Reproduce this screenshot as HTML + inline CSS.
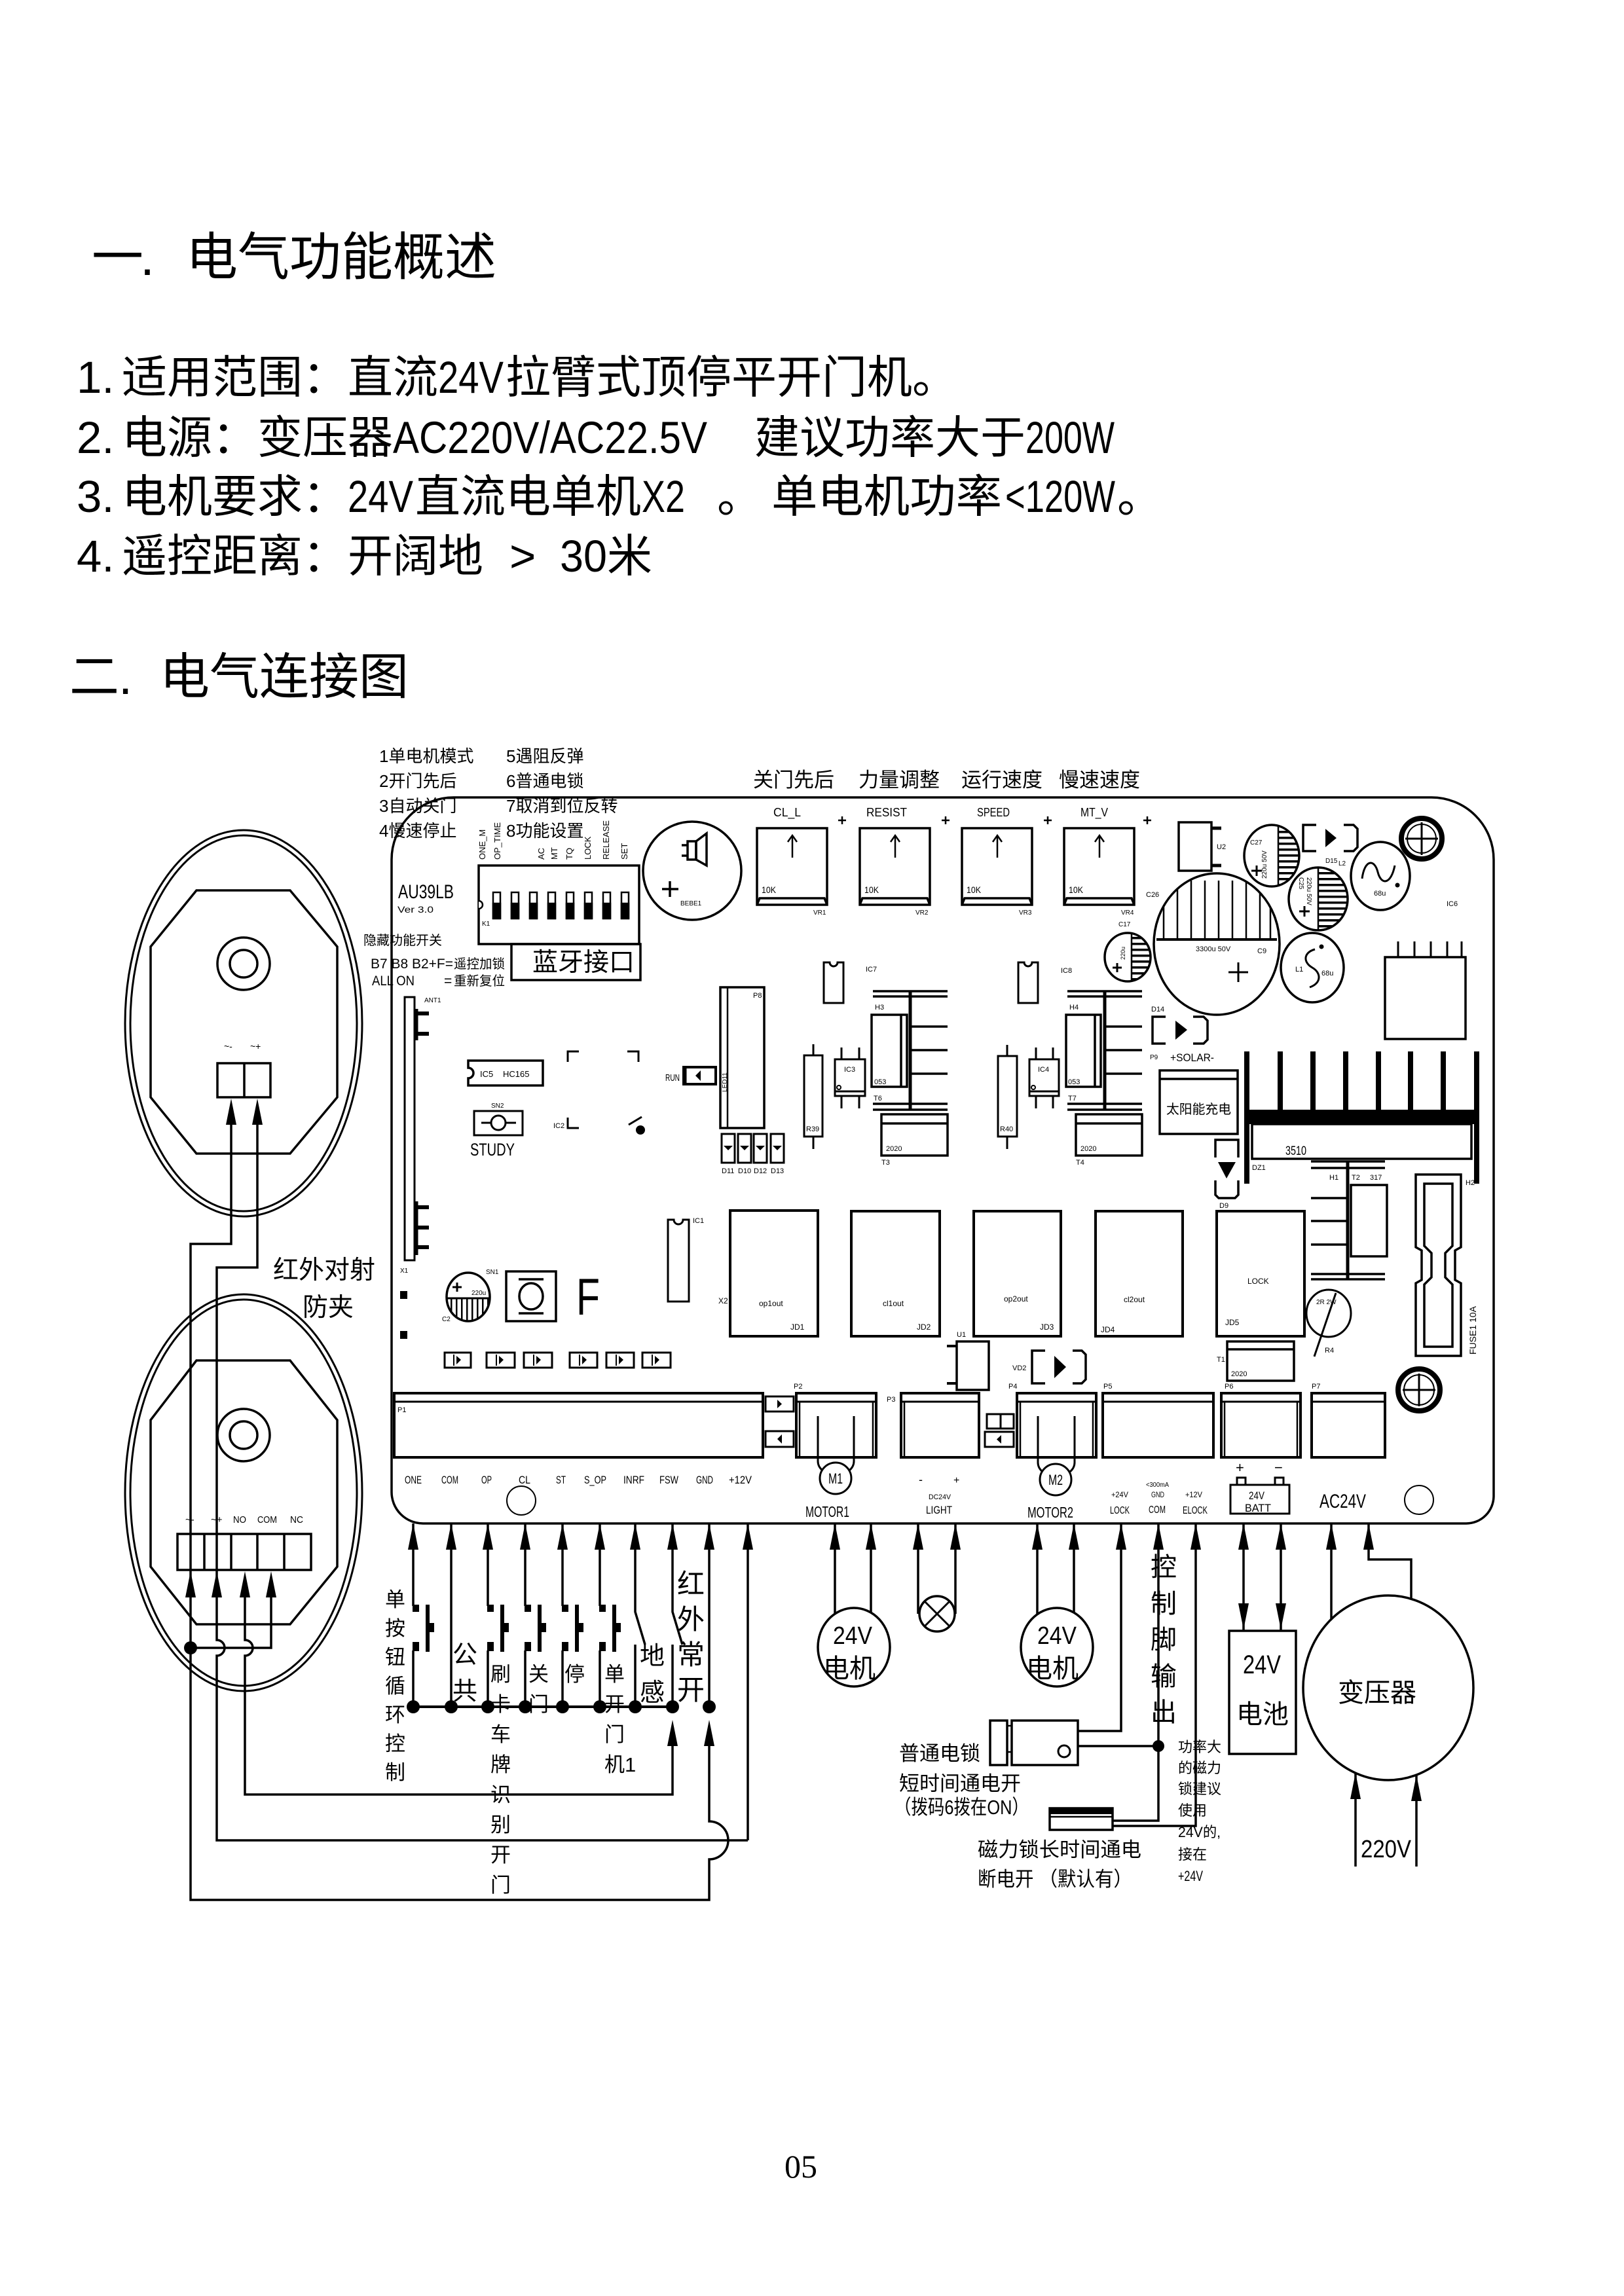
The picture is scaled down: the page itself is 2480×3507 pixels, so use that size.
<!DOCTYPE html>
<html><head><meta charset="utf-8">
<style>
html,body{margin:0;padding:0;background:#fff;}
svg{display:block;}
text{font-family:"Liberation Sans","Noto Sans CJK SC",sans-serif;fill:#000;stroke:none;}
.sf{font-family:"Liberation Serif","Noto Serif CJK SC",serif;}
</style></head><body>
<svg xmlns="http://www.w3.org/2000/svg" width="2480" height="3507" viewBox="0 0 2480 3507">
<defs>
<path id="ah" d="M0,0 L-8,40 L8,40 Z" fill="#000" stroke="none"/>
<pattern id="hh" width="10" height="9" patternUnits="userSpaceOnUse"><rect width="10" height="3.5" fill="#000"/></pattern>
<pattern id="hv" width="21" height="10" patternUnits="userSpaceOnUse"><rect width="2.5" height="10" fill="#000"/></pattern>
<pattern id="hv2" width="8" height="10" patternUnits="userSpaceOnUse"><rect width="2.5" height="10" fill="#000"/></pattern>
<clipPath id="cC27"><ellipse cx="1942" cy="1307" rx="42" ry="47"/></clipPath>
<clipPath id="cC25"><ellipse cx="2013" cy="1373" rx="45" ry="48"/></clipPath>
<clipPath id="cC17"><ellipse cx="1722" cy="1462" rx="35" ry="37"/></clipPath>
<clipPath id="cC9"><ellipse cx="1858" cy="1442" rx="96" ry="108"/></clipPath>
<clipPath id="cC2"><ellipse cx="715" cy="1981" rx="33" ry="37"/></clipPath>
</defs>
<rect width="2480" height="3507" fill="#fff"/>

<!-- ===== HEADER ===== -->
<g font-size="79">
<text x="140" y="420">一</text><text x="214" y="420">.</text>
<text x="284" y="420">电气功能概述</text>
</g>
<g font-size="69">
<text x="117" y="600">1.</text>
<text x="186" y="600">适用范围：直流</text>
<text x="669" y="600" textLength="100" lengthAdjust="spacingAndGlyphs">24V</text>
<text x="772" y="600">拉臂式顶停平开门机。</text>

<text x="117" y="692">2.</text>
<text x="186" y="692">电源：变压器</text>
<text x="600" y="692" textLength="480" lengthAdjust="spacingAndGlyphs">AC220V/AC22.5V</text>
<text x="1152" y="692">建议功率大于</text>
<text x="1566" y="692" textLength="136" lengthAdjust="spacingAndGlyphs">200W</text>

<text x="117" y="782">3.</text>
<text x="186" y="782">电机要求：</text>
<text x="531" y="782" textLength="100" lengthAdjust="spacingAndGlyphs">24V</text>
<text x="634" y="782">直流电单机</text>
<text x="980" y="782" textLength="66" lengthAdjust="spacingAndGlyphs">X2</text>
<text x="1095" y="782">。</text>
<text x="1178" y="782" textLength="352" lengthAdjust="spacingAndGlyphs">单电机功率</text>
<text x="1535" y="782" textLength="168" lengthAdjust="spacingAndGlyphs">&lt;120W</text>
<text x="1706" y="782">。</text>

<text x="117" y="873">4.</text>
<text x="186" y="873">遥控距离：</text>
<text x="531" y="873">开阔地</text>
<text x="778" y="873">&gt;</text>
<text x="855" y="873" textLength="72" lengthAdjust="spacingAndGlyphs">30</text>
<text x="927" y="873">米</text>
</g>
<g font-size="76">
<text x="106" y="1060">二</text><text x="181" y="1060">.</text>
<text x="244" y="1060">电气连接图</text>
</g>

<!-- DIP description -->
<g font-size="26">
<text x="579" y="1164">1单电机模式</text>
<text x="579" y="1202">2开门先后</text>
<text x="579" y="1240">3自动关门</text>
<text x="579" y="1278">4慢速停止</text>
<text x="773" y="1164">5遇阻反弹</text>
<text x="773" y="1202">6普通电锁</text>
<text x="773" y="1240">7取消到位反转</text>
<text x="773" y="1278">8功能设置</text>
</g>
<g font-size="31">
<text x="1150" y="1202">关门先后</text>
<text x="1311" y="1202">力量调整</text>
<text x="1468" y="1202">运行速度</text>
<text x="1617" y="1202">慢速速度</text>
</g>

<!-- ===== BOARD OUTLINE ===== -->
<g fill="none" stroke="#000" stroke-width="3.5">
<path d="M693,1218 H2186 A95,95 0 0 1 2281,1313 V2285 A42,42 0 0 1 2239,2327 H646 A48,48 0 0 1 598,2279 V1313 A95,95 0 0 1 693,1218 Z"/>
</g>

<!-- DIP switch -->
<g font-size="13">
<text transform="translate(741,1313) rotate(-90)">ONE_M</text>
<text transform="translate(764,1313) rotate(-90)">OP_TIME</text>
<text transform="translate(831,1313) rotate(-90)">AC</text>
<text transform="translate(851,1313) rotate(-90)">MT</text>
<text transform="translate(874,1313) rotate(-90)">TQ</text>
<text transform="translate(902,1313) rotate(-90)">LOCK</text>
<text transform="translate(930,1313) rotate(-90)">RELEASE</text>
<text transform="translate(958,1313) rotate(-90)">SET</text>
</g>
<g fill="none" stroke="#000" stroke-width="3.5">
<rect x="731" y="1322" width="245" height="120"/>
<rect x="781" y="1442" width="197" height="55"/>
</g>
<path d="M731,1376 A6,6 0 0 1 731,1388" fill="#fff" stroke="#000" stroke-width="2.5"/>
<g stroke="#000" stroke-width="2.5">
<rect x="753" y="1363" width="11" height="40" fill="#fff"/><rect x="753" y="1380" width="11" height="23" fill="#000"/>
<rect x="781" y="1363" width="11" height="40" fill="#fff"/><rect x="781" y="1380" width="11" height="23" fill="#000"/>
<rect x="809" y="1363" width="11" height="40" fill="#fff"/><rect x="809" y="1380" width="11" height="23" fill="#000"/>
<rect x="837" y="1363" width="11" height="40" fill="#fff"/><rect x="837" y="1380" width="11" height="23" fill="#000"/>
<rect x="865" y="1363" width="11" height="40" fill="#fff"/><rect x="865" y="1380" width="11" height="23" fill="#000"/>
<rect x="893" y="1363" width="11" height="40" fill="#fff"/><rect x="893" y="1380" width="11" height="23" fill="#000"/>
<rect x="921" y="1363" width="11" height="40" fill="#fff"/><rect x="921" y="1380" width="11" height="23" fill="#000"/>
<rect x="949" y="1363" width="11" height="40" fill="#fff"/><rect x="949" y="1380" width="11" height="23" fill="#000"/>
</g>
<text x="736" y="1414" font-size="10">K1</text>
<text x="813" y="1483" font-size="39">蓝牙接口</text>
<text x="608" y="1372" font-size="30" textLength="85" lengthAdjust="spacingAndGlyphs">AU39LB</text>
<text x="607" y="1394" font-size="14" textLength="55" lengthAdjust="spacingAndGlyphs">Ver 3.0</text>
<text x="555" y="1443" font-size="20" textLength="120" lengthAdjust="spacingAndGlyphs">隐藏功能开关</text>
<text x="566" y="1479" font-size="21" textLength="126" lengthAdjust="spacingAndGlyphs">B7 B8 B2+F=</text>
<text x="693" y="1479" font-size="20" textLength="78" lengthAdjust="spacingAndGlyphs">遥控加锁</text>
<text x="568" y="1505" font-size="21" textLength="65" lengthAdjust="spacingAndGlyphs">ALL ON</text>
<text x="678" y="1505" font-size="21">=</text>
<text x="693" y="1505" font-size="20" textLength="78" lengthAdjust="spacingAndGlyphs">重新复位</text>

<!-- Buzzer -->
<g fill="none" stroke="#000" stroke-width="3.5">
<circle cx="1057" cy="1330" r="75"/>
<rect x="1050" y="1285" width="13" height="28"/>
<polygon points="1063,1285 1079,1273 1079,1322 1063,1313"/>
<line x1="1041" y1="1291" x2="1050" y2="1291"/><line x1="1041" y1="1307" x2="1050" y2="1307"/>
<line x1="1011" y1="1358" x2="1036" y2="1358"/><line x1="1023" y1="1346" x2="1023" y2="1370"/>
</g>
<text x="1039" y="1383" font-size="10">BEBE1</text>

<!-- VR potentiometers -->
<g fill="none" stroke="#000" stroke-width="3.5">
<rect x="1156" y="1265" width="107" height="117"/>
<rect x="1313" y="1265" width="107" height="117"/>
<rect x="1469" y="1265" width="107" height="117"/>
<rect x="1625" y="1265" width="107" height="117"/>
<polyline points="1156,1382 1160,1372 1259,1372 1263,1382"/>
<polyline points="1313,1382 1317,1372 1416,1372 1420,1382"/>
<polyline points="1469,1382 1473,1372 1572,1372 1576,1382"/>
<polyline points="1625,1382 1629,1372 1728,1372 1732,1382"/>
<g stroke-width="2.5">
<path d="M1210,1310 V1276 M1203,1286 L1210,1276 L1217,1286"/>
<path d="M1367,1310 V1276 M1360,1286 L1367,1276 L1374,1286"/>
<path d="M1523,1310 V1276 M1516,1286 L1523,1276 L1530,1286"/>
<path d="M1679,1310 V1276 M1672,1286 L1679,1276 L1686,1286"/>
<path d="M1280,1253 H1292 M1286,1247 V1259 M1438,1253 H1450 M1444,1247 V1259 M1594,1253 H1606 M1600,1247 V1259 M1746,1253 H1758 M1752,1247 V1259"/>
</g>
</g>
<g font-size="14">
<text x="1163" y="1364" textLength="22" lengthAdjust="spacingAndGlyphs">10K</text>
<text x="1320" y="1364" textLength="22" lengthAdjust="spacingAndGlyphs">10K</text>
<text x="1476" y="1364" textLength="22" lengthAdjust="spacingAndGlyphs">10K</text>
<text x="1632" y="1364" textLength="22" lengthAdjust="spacingAndGlyphs">10K</text>
</g>
<g font-size="10">
<text x="1242" y="1397">VR1</text><text x="1398" y="1397">VR2</text><text x="1556" y="1397">VR3</text><text x="1712" y="1397">VR4</text>
</g>
<g font-size="18">
<text x="1181" y="1247" textLength="42" lengthAdjust="spacingAndGlyphs">CL_L</text>
<text x="1323" y="1247" textLength="62" lengthAdjust="spacingAndGlyphs">RESIST</text>
<text x="1492" y="1247" textLength="50" lengthAdjust="spacingAndGlyphs">SPEED</text>
<text x="1650" y="1247" textLength="42" lengthAdjust="spacingAndGlyphs">MT_V</text>
</g>

<!-- U2, capacitors, inductors (top right) -->
<g fill="none" stroke="#000" stroke-width="3.5">
<rect x="1800" y="1256" width="50" height="74"/>
<line x1="1850" y1="1265" x2="1865" y2="1265" stroke-width="5"/>
<line x1="1850" y1="1322" x2="1865" y2="1322" stroke-width="5"/>
</g>
<text x="1858" y="1297" font-size="11">U2</text>

<rect x="1952" y="1255" width="40" height="105" fill="url(#hh)" clip-path="url(#cC27)"/>
<g fill="none" stroke="#000" stroke-width="3.5">
<ellipse cx="1942" cy="1307" rx="42" ry="47"/>
<line x1="1952" y1="1261" x2="1952" y2="1353" stroke-width="2.5"/>
<path d="M1911,1330 H1927 M1919,1322 V1338" stroke-width="3"/>
</g>
<text x="1909" y="1290" font-size="10">C27</text>
<text transform="translate(1934,1342) rotate(-90)" font-size="10">220u 50V</text>

<g fill="none" stroke="#000" stroke-width="3.5">
<path d="M2010,1260 H1990 V1300 H2010"/>
<path d="M2052,1260 H2067 L2073,1266 V1294 L2067,1300 H2052"/>
</g>
<polygon points="2024,1266 2041,1280 2024,1294" fill="#000"/>
<text x="2024" y="1318" font-size="10">D15</text>
<text x="2044" y="1322" font-size="10">L2</text>

<g fill="none" stroke="#000" stroke-width="3.5">
<ellipse cx="2108" cy="1338" rx="45" ry="52"/>
<path d="M2080,1342 C2084,1312 2099,1312 2104,1332 C2109,1352 2124,1352 2130,1322" stroke-width="3"/>
</g>
<circle cx="2134" cy="1352" r="3.5" fill="#000"/>
<text x="2098" y="1368" font-size="11">68u</text>

<!-- mounting hole top right -->
<g fill="none" stroke="#000">
<circle cx="2171" cy="1281" r="31" stroke-width="8"/>
<circle cx="2171" cy="1281" r="22" stroke-width="2"/>
<path d="M2146,1281 H2196 M2171,1256 V1306" stroke-width="3"/>
</g>

<rect x="2013" y="1322" width="50" height="105" fill="url(#hh)" clip-path="url(#cC25)"/>
<g fill="none" stroke="#000" stroke-width="3.5">
<ellipse cx="2013" cy="1373" rx="45" ry="48"/>
<line x1="2013" y1="1326" x2="2013" y2="1420" stroke-width="2.5"/>
<path d="M1984,1392 H2000 M1992,1384 V1400" stroke-width="3"/>
</g>
<text transform="translate(1996,1340) rotate(90)" font-size="10">220u 50V</text>
<text transform="translate(1984,1340) rotate(90)" font-size="10">C25</text>

<!-- C9 big cap -->
<g fill="none" stroke="#000" stroke-width="3.5">
<ellipse cx="1858" cy="1442" rx="96" ry="108"/>
<line x1="1766" y1="1435" x2="1950" y2="1435" stroke-width="4"/>
<path d="M1876,1485 H1906 M1891,1470 V1500" stroke-width="3"/>
</g>
<g clip-path="url(#cC9)" stroke="#000" stroke-width="2.5">
<line x1="1777" y1="1345" x2="1777" y2="1435"/><line x1="1798" y1="1345" x2="1798" y2="1435"/>
<line x1="1819" y1="1345" x2="1819" y2="1435"/><line x1="1840" y1="1345" x2="1840" y2="1435"/>
<line x1="1861" y1="1345" x2="1861" y2="1435"/><line x1="1882" y1="1345" x2="1882" y2="1435"/>
<line x1="1903" y1="1345" x2="1903" y2="1435"/><line x1="1924" y1="1345" x2="1924" y2="1435"/>
<line x1="1940" y1="1360" x2="1940" y2="1435"/>
</g>
<text x="1826" y="1453" font-size="11">3300u 50V</text>
<text x="1920" y="1456" font-size="11">C9</text>
<text x="1750" y="1370" font-size="11">C26</text>

<!-- C17 -->
<rect x="1728" y="1420" width="35" height="85" fill="url(#hh)" clip-path="url(#cC17)"/>
<g fill="none" stroke="#000" stroke-width="3.5">
<ellipse cx="1722" cy="1462" rx="35" ry="37"/>
<line x1="1728" y1="1427" x2="1728" y2="1498" stroke-width="2.5"/>
<path d="M1699,1478 H1713 M1706,1471 V1485" stroke-width="3"/>
</g>
<text x="1708" y="1415" font-size="10">C17</text>
<text transform="translate(1718,1466) rotate(-90)" font-size="9">220u</text>

<!-- L1 -->
<g fill="none" stroke="#000" stroke-width="3.5">
<ellipse cx="2004" cy="1478" rx="48" ry="53"/>
<path d="M2008,1450 C1990,1455 1990,1470 2004,1478 C2018,1486 2018,1502 2000,1508" stroke-width="3"/>
</g>
<circle cx="2018" cy="1446" r="3.5" fill="#000"/>
<text x="1978" y="1484" font-size="11">L1</text>
<text x="2018" y="1490" font-size="11">68u</text>

<!-- IC6 -->
<g fill="none" stroke="#000" stroke-width="3.5">
<rect x="2115" y="1462" width="123" height="125"/>
<path d="M2135,1438 V1462 M2160,1438 V1462 M2185,1438 V1462 M2210,1438 V1462 M2232,1438 V1462" stroke-width="3"/>
</g>
<text x="2209" y="1384" font-size="11">IC6</text>

<!-- IC7, IC8 -->
<g fill="none" stroke="#000" stroke-width="3">
<path d="M1258,1470 H1267 A6,6 0 0 0 1279,1470 H1288 V1532 H1258 Z"/>
<path d="M1555,1470 H1564 A6,6 0 0 0 1576,1470 H1585 V1532 H1555 Z"/>
</g>
<text x="1322" y="1484" font-size="11">IC7</text>
<text x="1620" y="1486" font-size="11">IC8</text>

<!-- H3 / T6 / T3 -->
<g fill="none" stroke="#000" stroke-width="3.5">
<path d="M1333,1514 H1447 M1333,1522 H1447 M1333,1686 H1447 M1333,1695 H1447"/>
<line x1="1390" y1="1514" x2="1390" y2="1695" stroke-width="5"/>
<path d="M1390,1568 H1447 M1390,1604 H1447 M1390,1640 H1447"/>
<rect x="1331" y="1550" width="54" height="110"/><line x1="1376" y1="1550" x2="1376" y2="1660"/>
<rect x="1346" y="1702" width="101" height="63"/><line x1="1346" y1="1716" x2="1447" y2="1716"/>
<!-- H4 / T7 / T4 -->
<path d="M1630,1514 H1744 M1630,1522 H1744 M1630,1686 H1744 M1630,1695 H1744"/>
<line x1="1687" y1="1514" x2="1687" y2="1695" stroke-width="5"/>
<path d="M1687,1568 H1744 M1687,1604 H1744 M1687,1640 H1744"/>
<rect x="1628" y="1550" width="53" height="110"/><line x1="1672" y1="1550" x2="1672" y2="1660"/>
<rect x="1643" y="1702" width="101" height="63"/><line x1="1643" y1="1716" x2="1744" y2="1716"/>
</g>
<g font-size="11">
<text x="1336" y="1542">H3</text><text x="1335" y="1656">053</text><text x="1334" y="1681">T6</text>
<text x="1353" y="1758">2020</text><text x="1346" y="1779">T3</text>
<text x="1633" y="1542">H4</text><text x="1631" y="1656">053</text><text x="1631" y="1681">T7</text>
<text x="1650" y="1758">2020</text><text x="1643" y="1779">T4</text>
</g>

<!-- IC3, IC4, R39, R40 -->
<g fill="none" stroke="#000" stroke-width="3">
<rect x="1275" y="1618" width="46" height="56"/><line x1="1275" y1="1667" x2="1321" y2="1667"/>
<path d="M1285,1600 V1618 M1312,1600 V1618 M1285,1674 V1693 M1312,1674 V1693"/>
<rect x="1572" y="1618" width="45" height="56"/><line x1="1572" y1="1667" x2="1617" y2="1667"/>
<path d="M1582,1600 V1618 M1608,1600 V1618 M1582,1674 V1693 M1608,1674 V1693"/>
<rect x="1228" y="1612" width="28" height="124"/><path d="M1242,1595 V1612 M1242,1736 V1755"/>
<rect x="1524" y="1613" width="29" height="123"/><path d="M1538,1596 V1613 M1538,1736 V1755"/>
</g>
<circle cx="1281" cy="1661" r="3" fill="none" stroke="#000" stroke-width="2"/>
<circle cx="1578" cy="1661" r="3" fill="none" stroke="#000" stroke-width="2"/>
<g font-size="11">
<text x="1289" y="1637">IC3</text><text x="1585" y="1637">IC4</text>
<text x="1231" y="1728">R39</text><text x="1527" y="1728">R40</text>
</g>

<!-- P8 / LED11 / D10-13 -->
<g fill="none" stroke="#000" stroke-width="3.5">
<rect x="1100" y="1508" width="67" height="215"/><line x1="1111" y1="1508" x2="1111" y2="1723" stroke-width="2.5"/>
<g stroke-width="3">
<rect x="1102" y="1732" width="20" height="44"/><rect x="1127" y="1732" width="20" height="44"/>
<rect x="1151" y="1732" width="20" height="44"/><rect x="1177" y="1732" width="20" height="44"/>
</g>
</g>
<g fill="#000">
<polygon points="1105,1750 1119,1750 1112,1757"/><polygon points="1130,1750 1144,1750 1137,1757"/>
<polygon points="1154,1750 1168,1750 1161,1757"/><polygon points="1180,1750 1194,1750 1187,1757"/>
</g>
<g font-size="11">
<text x="1150" y="1524">P8</text>
<text transform="translate(1110,1668) rotate(-90)" font-size="10">LED11</text>
<text x="1102" y="1792">D11</text><text x="1127" y="1792">D10</text><text x="1151" y="1792">D12</text><text x="1177" y="1792">D13</text>
</g>

<!-- RUN -->
<text x="1016" y="1651" font-size="15" textLength="22" lengthAdjust="spacingAndGlyphs">RUN</text>
<rect x="1044" y="1630" width="49" height="26" fill="none" stroke="#000" stroke-width="4"/>
<line x1="1046" y1="1630" x2="1046" y2="1656" stroke="#000" stroke-width="5"/>
<polygon points="1062,1643 1070,1635 1070,1651" fill="#000"/>

<!-- IC2 corners -->
<g fill="none" stroke="#000" stroke-width="3">
<path d="M867,1622 V1606 H884 M958,1606 H975 V1622 M867,1707 V1723 H884"/>
<path d="M960,1718 L980,1706"/>
</g>
<circle cx="978" cy="1726" r="7" fill="#000"/>
<text x="845" y="1723" font-size="11">IC2</text>

<!-- IC5 -->
<path d="M715,1620 H829 V1658 H715 V1647 A8,8 0 0 0 715,1631 Z" fill="none" stroke="#000" stroke-width="3.5"/>
<text x="733" y="1645" font-size="13">IC5</text><text x="768" y="1645" font-size="13">HC165</text>

<!-- SN2 / STUDY -->
<g fill="none" stroke="#000" stroke-width="3">
<rect x="724" y="1697" width="74" height="37"/>
<circle cx="761" cy="1715" r="11"/>
<path d="M735,1715 H750 M772,1715 H788"/>
</g>
<text x="750" y="1692" font-size="10">SN2</text>
<text x="718" y="1765" font-size="27" textLength="68" lengthAdjust="spacingAndGlyphs">STUDY</text>

<!-- ANT1 / X1 -->
<g fill="none" stroke="#000">
<rect x="618" y="1523" width="15" height="402" stroke-width="3"/>
<path d="M636,1541 V1589 M636,1835 V1917" stroke-width="5"/>
<path d="M636,1548 H655 M636,1579 H655 M636,1844 H655 M636,1875 H655 M636,1905 H655" stroke-width="6"/>
</g>
<text x="648" y="1531" font-size="10">ANT1</text>
<text x="611" y="1944" font-size="10">X1</text>

<!-- C2, SN1, F -->
<rect x="680" y="1983" width="70" height="40" fill="url(#hv2)" clip-path="url(#cC2)"/>
<g fill="none" stroke="#000" stroke-width="3.5">
<ellipse cx="715" cy="1981" rx="33" ry="37"/>
<line x1="682" y1="1983" x2="748" y2="1983" stroke-width="3"/>
<path d="M691,1966 H705 M698,1959 V1973" stroke-width="3"/>
<rect x="773" y="1942" width="76" height="76"/>
<ellipse cx="811" cy="1980" rx="18" ry="20"/>
<path d="M792,1954 H830 M792,2006 H830"/>
</g>
<text x="720" y="1978" font-size="10">220u</text>
<text x="742" y="1946" font-size="10">SN1</text>
<text x="675" y="2018" font-size="10">C2</text>
<text x="880" y="2008" font-size="79" textLength="36" lengthAdjust="spacingAndGlyphs">F</text>
<rect x="611" y="1972" width="11" height="12" fill="#000"/>
<rect x="611" y="2033" width="11" height="12" fill="#000"/>

<!-- LED row -->
<g fill="none" stroke="#000" stroke-width="3">
<rect x="679" y="2066" width="40" height="23"/><rect x="743" y="2066" width="43" height="23"/>
<rect x="800" y="2066" width="43" height="23"/><rect x="870" y="2066" width="42" height="23"/>
<rect x="926" y="2066" width="42" height="23"/><rect x="981" y="2066" width="43" height="23"/>
<path d="M693,2069 V2086 M758,2069 V2086 M815,2069 V2086 M885,2069 V2086 M941,2069 V2086 M996,2069 V2086" stroke-width="2"/>
</g>
<g fill="#000">
<polygon points="697,2071 704,2077 697,2084"/><polygon points="762,2071 769,2077 762,2084"/>
<polygon points="819,2071 826,2077 819,2084"/><polygon points="889,2071 896,2077 889,2084"/>
<polygon points="945,2071 952,2077 945,2084"/><polygon points="1000,2071 1007,2077 1000,2084"/>
</g>

<!-- IC1 -->
<path d="M1020,1863 H1029 A7,7 0 0 0 1043,1863 H1052 V1988 H1020 Z" fill="none" stroke="#000" stroke-width="3"/>
<text x="1058" y="1868" font-size="11">IC1</text>

<!-- Relays -->
<g fill="none" stroke="#000" stroke-width="4">
<rect x="1115" y="1849" width="134" height="192"/>
<rect x="1300" y="1850" width="135" height="191"/>
<rect x="1487" y="1850" width="133" height="191"/>
<rect x="1673" y="1850" width="133" height="191"/>
<rect x="1858" y="1850" width="134" height="191"/>
</g>
<g font-size="12">
<text x="1159" y="1995">op1out</text><text x="1207" y="2031">JD1</text><text x="1097" y="1991">X2</text>
<text x="1348" y="1995">cl1out</text><text x="1400" y="2031">JD2</text>
<text x="1533" y="1988">op2out</text><text x="1588" y="2031">JD3</text>
<text x="1716" y="1989">cl2out</text><text x="1681" y="2035">JD4</text>
<text x="1905" y="1961">LOCK</text><text x="1871" y="2024">JD5</text>
</g>

<!-- U1, VD2, T1 -->
<g fill="none" stroke="#000" stroke-width="3.5">
<rect x="1461" y="2049" width="49" height="74"/>
<path d="M1446,2056 H1461 M1446,2113 H1461" stroke-width="4"/>
<path d="M1596,2063 H1576 V2113 H1596"/>
<path d="M1638,2063 H1652 L1658,2069 V2107 L1652,2113 H1638"/>
<rect x="1874" y="2049" width="102" height="60"/><line x1="1874" y1="2061" x2="1976" y2="2061"/>
</g>
<polygon points="1610,2071 1628,2088 1610,2105" fill="#000"/>
<g font-size="11">
<text x="1461" y="2042">U1</text><text x="1546" y="2093">VD2</text>
<text x="1880" y="2102">2020</text><text x="1858" y="2080">T1</text>
</g>

<!-- D14, solar -->
<g fill="none" stroke="#000" stroke-width="3.5">
<path d="M1780,1553 H1760 V1594 H1780"/>
<path d="M1822,1553 H1838 L1844,1559 V1588 L1838,1594 H1822"/>
<rect x="1771" y="1635" width="119" height="97"/><line x1="1771" y1="1648" x2="1890" y2="1648"/>
</g>
<polygon points="1795,1559 1813,1573 1795,1588" fill="#000"/>
<text x="1758" y="1545" font-size="11">D14</text>
<text x="1756" y="1618" font-size="10">P9</text>
<text x="1787" y="1621" font-size="17" textLength="67" lengthAdjust="spacingAndGlyphs">+SOLAR-</text>
<text x="1781" y="1701" font-size="20" textLength="99" lengthAdjust="spacingAndGlyphs">太阳能充电</text>

<!-- D9 -->
<g fill="none" stroke="#000" stroke-width="3.5">
<path d="M1856,1768 V1741 H1891 V1768"/>
<path d="M1856,1803 V1825 L1861,1830 H1886 L1891,1825 V1803"/>
</g>
<polygon points="1860,1775 1887,1775 1873,1800" fill="#000"/>
<text x="1862" y="1845" font-size="11">D9</text>

<!-- DZ1 heatsink -->
<g fill="#000">
<rect x="1900" y="1606" width="8" height="202"/>
<rect x="1951" y="1606" width="8" height="100"/>
<rect x="2001" y="1606" width="8" height="100"/>
<rect x="2051" y="1606" width="8" height="100"/>
<rect x="2101" y="1606" width="8" height="100"/>
<rect x="2150" y="1606" width="8" height="100"/>
<rect x="2200" y="1606" width="8" height="100"/>
<rect x="2251" y="1606" width="8" height="202"/>
<rect x="1900" y="1695" width="359" height="22"/>
</g>
<rect x="1912" y="1717" width="335" height="53" fill="none" stroke="#000" stroke-width="3.5"/>
<text x="1963" y="1764" font-size="19" textLength="32" lengthAdjust="spacingAndGlyphs">3510</text>
<text x="1912" y="1787" font-size="11">DZ1</text>

<!-- H1/T2 -->
<g fill="none" stroke="#000" stroke-width="3.5">
<path d="M2002,1774 H2115 M2002,1784 H2115 M2002,1946 H2115 M2002,1954 H2115"/>
<line x1="2058" y1="1774" x2="2058" y2="1954" stroke-width="5"/>
<path d="M2002,1830 H2058 M2002,1865 H2058 M2002,1901 H2058"/>
<rect x="2063" y="1810" width="55" height="109"/>
</g>
<g font-size="11"><text x="2030" y="1802">H1</text><text x="2064" y="1802">T2</text><text x="2092" y="1802">317</text></g>

<!-- Fuse H2 -->
<g fill="none" stroke="#000" stroke-width="3.5">
<path d="M2162,1794 H2231 V1905 L2222,1910 V1955 L2231,1960 V2071 H2162 V1960 L2171,1955 V1910 L2162,1905 Z"/>
<path d="M2175,1808 H2218 V1903 L2207,1914 V1951 L2218,1962 V2057 H2175 V1962 L2186,1951 V1914 L2175,1903 Z"/>
</g>
<text x="2238" y="1810" font-size="11">H2</text>
<text transform="translate(2254,2069) rotate(-90)" font-size="14">FUSE1   10A</text>

<!-- R4 -->
<g fill="none" stroke="#000" stroke-width="3">
<ellipse cx="2029" cy="2006" rx="34" ry="36"/>
<line x1="2007" y1="2072" x2="2040" y2="1975"/>
</g>
<text x="2010" y="1992" font-size="10">2R 2W</text>
<text x="2023" y="2066" font-size="11">R4</text>

<!-- mounting hole bottom right -->
<g fill="none" stroke="#000">
<circle cx="2167" cy="2123" r="32" stroke-width="8"/>
<circle cx="2167" cy="2123" r="23" stroke-width="2"/>
<path d="M2142,2123 H2192 M2167,2098 V2148" stroke-width="3"/>
<circle cx="2167" cy="2291" r="22" stroke-width="2"/>
<circle cx="796" cy="2292" r="22" stroke-width="2"/>
</g>

<!-- Bottom connectors -->
<g fill="none" stroke="#000" stroke-width="4">
<rect x="602" y="2128" width="563" height="98"/><line x1="602" y1="2141" x2="1165" y2="2141" stroke-width="3"/>
<rect x="1216" y="2128" width="122" height="98"/><line x1="1216" y1="2141" x2="1338" y2="2141" stroke-width="3"/>
<path d="M1221,2141 V2226 M1333,2141 V2226" stroke-width="2.5"/>
<rect x="1376" y="2128" width="119" height="98"/><line x1="1376" y1="2141" x2="1495" y2="2141" stroke-width="3"/>
<path d="M1381,2141 V2226" stroke-width="2.5"/>
<rect x="1553" y="2128" width="121" height="98"/><line x1="1553" y1="2141" x2="1674" y2="2141" stroke-width="3"/>
<path d="M1558,2141 V2226 M1669,2141 V2226" stroke-width="2.5"/>
<rect x="1684" y="2128" width="169" height="98"/><line x1="1684" y1="2141" x2="1853" y2="2141" stroke-width="3"/>
<rect x="1865" y="2128" width="121" height="98"/><line x1="1865" y1="2141" x2="1986" y2="2141" stroke-width="3"/>
<path d="M1870,2141 V2226 M1981,2141 V2226" stroke-width="2.5"/>
<rect x="2003" y="2128" width="112" height="98"/><line x1="2003" y1="2141" x2="2115" y2="2141" stroke-width="3"/>
<g stroke-width="3">
<rect x="1169" y="2133" width="43" height="23"/><rect x="1169" y="2186" width="43" height="24"/>
<rect x="1507" y="2160" width="41" height="22"/><line x1="1528" y1="2160" x2="1528" y2="2182"/>
<rect x="1504" y="2187" width="44" height="23"/>
</g>
<!-- motors on board -->
<circle cx="1276" cy="2258" r="24" stroke-width="3"/>
<path d="M1249,2163 V2232 Q1249,2240 1256,2246 M1304,2163 V2232 Q1304,2240 1297,2246" stroke-width="3"/>
<circle cx="1612" cy="2260" r="24" stroke-width="3"/>
<path d="M1585,2163 V2234 Q1585,2242 1592,2248 M1641,2163 V2234 Q1641,2242 1634,2248" stroke-width="3"/>
<!-- battery symbol -->
<rect x="1879" y="2268" width="90" height="44" stroke-width="3"/>
<rect x="1889" y="2257" width="13" height="11" stroke-width="3"/>
<rect x="1947" y="2257" width="13" height="11" stroke-width="3"/>
</g>
<g fill="#000">
<polygon points="1187,2138 1194,2144.5 1187,2151"/>
<polygon points="1194,2191 1187,2198 1194,2205"/>
<polygon points="1529,2192 1522,2198.5 1529,2205"/>
</g>
<g font-size="11">
<text x="607" y="2157">P1</text><text x="1212" y="2121">P2</text><text x="1354" y="2141">P3</text>
<text x="1540" y="2121">P4</text><text x="1685" y="2121">P5</text><text x="1870" y="2121">P6</text><text x="2003" y="2121">P7</text>
</g>
<text x="1265" y="2266" font-size="22" textLength="22" lengthAdjust="spacingAndGlyphs">M1</text>
<text x="1601" y="2268" font-size="22" textLength="22" lengthAdjust="spacingAndGlyphs">M2</text>
<text x="1230" y="2317" font-size="23" textLength="67" lengthAdjust="spacingAndGlyphs">MOTOR1</text>
<text x="1569" y="2318" font-size="23" textLength="70" lengthAdjust="spacingAndGlyphs">MOTOR2</text>
<g font-size="17">
<text x="618" y="2266" textLength="26" lengthAdjust="spacingAndGlyphs">ONE</text>
<text x="674" y="2266" textLength="26" lengthAdjust="spacingAndGlyphs">COM</text>
<text x="735" y="2266" textLength="16" lengthAdjust="spacingAndGlyphs">OP</text>
<text x="792" y="2266" textLength="18" lengthAdjust="spacingAndGlyphs">CL</text>
<text x="849" y="2266" textLength="15" lengthAdjust="spacingAndGlyphs">ST</text>
<text x="892" y="2266" textLength="34" lengthAdjust="spacingAndGlyphs">S_OP</text>
<text x="952" y="2266" textLength="32" lengthAdjust="spacingAndGlyphs">INRF</text>
<text x="1007" y="2266" textLength="29" lengthAdjust="spacingAndGlyphs">FSW</text>
<text x="1063" y="2266" textLength="26" lengthAdjust="spacingAndGlyphs">GND</text>
<text x="1113" y="2266" textLength="35" lengthAdjust="spacingAndGlyphs">+12V</text>
</g>
<text x="1403" y="2266" font-size="18">-</text>
<text x="1456" y="2266" font-size="16">+</text>
<text x="1418" y="2290" font-size="11" textLength="34" lengthAdjust="spacingAndGlyphs">DC24V</text>
<text x="1414" y="2312" font-size="17" textLength="40" lengthAdjust="spacingAndGlyphs">LIGHT</text>
<text x="1697" y="2287" font-size="12" textLength="26" lengthAdjust="spacingAndGlyphs">+24V</text>
<text x="1695" y="2312" font-size="16" textLength="30" lengthAdjust="spacingAndGlyphs">LOCK</text>
<text x="1750" y="2271" font-size="10" textLength="35" lengthAdjust="spacingAndGlyphs">&lt;300mA</text>
<text x="1758" y="2287" font-size="12" textLength="20" lengthAdjust="spacingAndGlyphs">GND</text>
<text x="1754" y="2311" font-size="16" textLength="26" lengthAdjust="spacingAndGlyphs">COM</text>
<text x="1810" y="2287" font-size="12" textLength="26" lengthAdjust="spacingAndGlyphs">+12V</text>
<text x="1806" y="2312" font-size="16" textLength="38" lengthAdjust="spacingAndGlyphs">ELOCK</text>
<text x="1887" y="2249" font-size="22">+</text>
<text x="1946" y="2249" font-size="22">−</text>
<text x="1907" y="2290" font-size="17" textLength="24" lengthAdjust="spacingAndGlyphs">24V</text>
<text x="1901" y="2309" font-size="17" textLength="40" lengthAdjust="spacingAndGlyphs">BATT</text>
<text x="2015" y="2303" font-size="30" textLength="71" lengthAdjust="spacingAndGlyphs">AC24V</text>

<!-- ===== IR SENSORS ===== -->
<g fill="none" stroke="#000" stroke-width="3">
<ellipse cx="372" cy="1563" rx="181" ry="295"/>
<ellipse cx="372" cy="1563" rx="173" ry="287"/>
<polygon points="300,1360 443,1360 515,1446 515,1676 443,1762 300,1762 230,1676 230,1446" stroke-width="3.5"/>
<circle cx="372" cy="1472" r="40" stroke-width="3.5"/>
<circle cx="372" cy="1472" r="21" stroke-width="3.5"/>
<rect x="332" y="1624" width="81" height="52" stroke-width="3.5"/>
<line x1="373" y1="1624" x2="373" y2="1676" stroke-width="3.5"/>

<ellipse cx="372" cy="2280" rx="181" ry="303"/>
<ellipse cx="372" cy="2280" rx="173" ry="295"/>
<polygon points="300,2078 443,2078 515,2169 515,2393 443,2481 300,2481 230,2393 230,2169" stroke-width="3.5"/>
<circle cx="372" cy="2192" r="40" stroke-width="3.5"/>
<circle cx="372" cy="2192" r="21" stroke-width="3.5"/>
<rect x="271" y="2343" width="204" height="55" stroke-width="3.5"/>
<path d="M312,2343 V2398 M353,2343 V2398 M393,2343 V2398 M434,2343 V2398" stroke-width="3.5"/>
</g>
<text x="342" y="1603" font-size="14">~-</text>
<text x="382" y="1603" font-size="14">~+</text>
<g font-size="15">
<text x="283" y="2326">~-</text><text x="322" y="2326">~+</text>
<text x="356" y="2326" textLength="20" lengthAdjust="spacingAndGlyphs">NO</text>
<text x="393" y="2326" textLength="30" lengthAdjust="spacingAndGlyphs">COM</text>
<text x="443" y="2326" textLength="20" lengthAdjust="spacingAndGlyphs">NC</text>
</g>
<text x="417" y="1953" font-size="39">红外对射</text>
<text x="462" y="2010" font-size="39">防夹</text>

<!-- ===== WIRING ===== -->
<g fill="none" stroke="#000" stroke-width="3.5">
<path d="M353,1716 V1900 H291 V2902 H1083 V2840 A29,29 0 0 0 1083,2782 V2665"/>
<path d="M393,1716 V1936 H331 V2505 A12,12 0 0 1 331,2529 V2811 H1142"/>
<path d="M374,2438 V2505 A12,12 0 0 1 374,2529 V2741 H1027 V2665"/>
<path d="M414,2438 V2517 H291"/>
<path d="M689,2327 V2607 M1083,2327 V2607 M1142,2327 V2811"/>
<path d="M631,2327 V2453 M631,2521 V2607 M745,2327 V2453 M745,2521 V2607 M802,2327 V2453 M802,2521 V2607 M859,2327 V2453 M859,2521 V2607 M916,2327 V2453 M916,2521 V2607"/>
<path d="M653,2451 V2523 M767,2451 V2523 M824,2451 V2523 M881,2451 V2523 M938,2451 V2523" stroke-width="6"/>
<path d="M970,2327 V2462 L985,2512 M970,2512 V2607"/>
<path d="M1027,2327 V2462 L1042,2512 M1027,2512 V2607"/>
<line x1="631" y1="2607" x2="1027" y2="2607" stroke-width="4"/>
<path d="M1275,2327 V2466 M1330,2327 V2464"/>
<path d="M1402,2327 V2465 M1459,2327 V2465"/>
<path d="M1584,2327 V2466 M1640,2327 V2464"/>
<path d="M1712,2327 V2644 H1646"/>
<path d="M1769,2327 V2781 H1699 M1646,2667 H1769"/>
<path d="M1826,2327 V2789 H1699"/>
<path d="M1899,2327 V2491 M1956,2327 V2491"/>
<path d="M2033,2327 V2473 M2090,2327 V2382 H2155 V2442"/>
<path d="M2070,2708 V2851 M2163,2711 V2851"/>
<ellipse cx="1304" cy="2516" rx="55" ry="60"/>
<ellipse cx="1614" cy="2516" rx="55" ry="60"/>
<circle cx="1431" cy="2465" r="27"/>
<path d="M1412,2446 L1450,2484 M1450,2446 L1412,2484" stroke-width="3"/>
<rect x="1877" y="2491" width="102" height="188"/>
<ellipse cx="2120" cy="2578" rx="130" ry="141"/>
<rect x="1512" y="2628" width="26" height="68"/>
<rect x="1538" y="2636" width="7" height="40" stroke-width="2.5"/>
<rect x="1545" y="2628" width="101" height="68"/>
<circle cx="1625" cy="2675" r="9" stroke-width="3"/>
<rect x="1603" y="2762" width="96" height="33"/>
<line x1="1603" y1="2775" x2="1699" y2="2775" stroke-width="2.5"/>
</g>
<rect x="1603" y="2762" width="96" height="9" fill="#000"/>
<g fill="#000">
<rect x="630" y="2451" width="10" height="11"/><rect x="630" y="2508" width="10" height="14"/><rect x="655" y="2479" width="8" height="14"/>
<rect x="744" y="2451" width="10" height="11"/><rect x="744" y="2508" width="10" height="14"/><rect x="769" y="2479" width="8" height="14"/>
<rect x="801" y="2451" width="10" height="11"/><rect x="801" y="2508" width="10" height="14"/><rect x="826" y="2479" width="8" height="14"/>
<rect x="858" y="2451" width="10" height="11"/><rect x="858" y="2508" width="10" height="14"/><rect x="883" y="2479" width="8" height="14"/>
<rect x="915" y="2451" width="10" height="11"/><rect x="915" y="2508" width="10" height="14"/><rect x="940" y="2479" width="8" height="14"/>
<circle cx="631" cy="2607" r="10"/><circle cx="689" cy="2607" r="10"/><circle cx="745" cy="2607" r="10"/>
<circle cx="802" cy="2607" r="10"/><circle cx="859" cy="2607" r="10"/><circle cx="916" cy="2607" r="10"/>
<circle cx="970" cy="2607" r="10"/><circle cx="1027" cy="2607" r="10"/><circle cx="1083" cy="2607" r="10"/>
<circle cx="291" cy="2517" r="10"/>
<circle cx="1769" cy="2667" r="9"/>
</g>

<!-- arrowheads -->
<g>
<use href="#ah" x="631" y="2327"/><use href="#ah" x="689" y="2327"/><use href="#ah" x="745" y="2327"/>
<use href="#ah" x="802" y="2327"/><use href="#ah" x="859" y="2327"/><use href="#ah" x="916" y="2327"/>
<use href="#ah" x="970" y="2327"/><use href="#ah" x="1027" y="2327"/><use href="#ah" x="1083" y="2327"/>
<use href="#ah" x="1142" y="2327"/>
<use href="#ah" x="1275" y="2327"/><use href="#ah" x="1330" y="2327"/>
<use href="#ah" x="1402" y="2327"/><use href="#ah" x="1459" y="2327"/>
<use href="#ah" x="1584" y="2327"/><use href="#ah" x="1640" y="2327"/>
<use href="#ah" x="1712" y="2327"/><use href="#ah" x="1769" y="2327"/><use href="#ah" x="1826" y="2327"/>
<use href="#ah" x="1899" y="2327"/><use href="#ah" x="1956" y="2327"/>
<use href="#ah" x="2033" y="2327"/><use href="#ah" x="2090" y="2327"/>
<use href="#ah" x="353" y="1678"/><use href="#ah" x="393" y="1678"/>
<use href="#ah" x="291" y="2400"/><use href="#ah" x="331" y="2400"/><use href="#ah" x="374" y="2400"/><use href="#ah" x="414" y="2400"/>
<use href="#ah" x="1027" y="2627"/><use href="#ah" x="1083" y="2627"/>
<use href="#ah" x="2070" y="2708"/><use href="#ah" x="2163" y="2711"/>
<use href="#ah" transform="translate(1899,2489) rotate(180)"/>
<use href="#ah" transform="translate(1956,2489) rotate(180)"/>
</g>

<!-- wiring labels -->
<g font-size="31">
<text x="588" y="2454">单</text><text x="588" y="2498">按</text><text x="588" y="2542">钮</text>
<text x="588" y="2586">循</text><text x="588" y="2630">环</text><text x="588" y="2674">控</text><text x="588" y="2718">制</text>
<text x="749" y="2568">刷</text><text x="749" y="2614">卡</text><text x="749" y="2660">车</text><text x="749" y="2706">牌</text>
<text x="749" y="2752">识</text><text x="749" y="2798">别</text><text x="749" y="2844">开</text><text x="749" y="2890">门</text>
<text x="807" y="2568">关</text><text x="807" y="2614">门</text>
<text x="862" y="2568">停</text>
<text x="923" y="2568">单</text><text x="923" y="2614">开</text><text x="923" y="2660">门</text><text x="923" y="2706">机1</text>
</g>
<g font-size="38">
<text x="691" y="2540">公</text><text x="691" y="2596">共</text>
<text x="977" y="2542">地</text><text x="977" y="2598">感</text>
</g>
<g font-size="42">
<text x="1034" y="2434">红</text><text x="1034" y="2488">外</text><text x="1034" y="2542">常</text><text x="1034" y="2596">开</text>
</g>
<g font-size="40">
<text x="1757" y="2407">控</text><text x="1757" y="2463">制</text><text x="1757" y="2518">脚</text>
<text x="1757" y="2574">输</text><text x="1757" y="2629">出</text>
</g>
<text x="1272" y="2511" font-size="38" textLength="60" lengthAdjust="spacingAndGlyphs">24V</text>
<text x="1257" y="2562" font-size="40">电机</text>
<text x="1584" y="2511" font-size="38" textLength="60" lengthAdjust="spacingAndGlyphs">24V</text>
<text x="1567" y="2562" font-size="40">电机</text>
<text x="1898" y="2556" font-size="40" textLength="58" lengthAdjust="spacingAndGlyphs">24V</text>
<text x="1888" y="2632" font-size="40">电池</text>
<text x="2043" y="2599" font-size="40">变压器</text>
<text x="2078" y="2837" font-size="38" textLength="77" lengthAdjust="spacingAndGlyphs">220V</text>
<g font-size="31">
<text x="1373" y="2689">普通电锁</text>
<text x="1373" y="2735">短时间通电开</text>
<text x="1366" y="2771" textLength="205" lengthAdjust="spacingAndGlyphs">（拨码6拨在ON）</text>
<text x="1493" y="2836" textLength="250" lengthAdjust="spacingAndGlyphs">磁力锁长时间通电</text>
<text x="1493" y="2881" textLength="236" lengthAdjust="spacingAndGlyphs">断电开 （默认有）</text>
</g>
<g font-size="22">
<text x="1799" y="2676">功率大</text><text x="1799" y="2708">的磁力</text><text x="1799" y="2740">锁建议</text>
<text x="1799" y="2773">使用</text>
<text x="1799" y="2806" textLength="65" lengthAdjust="spacingAndGlyphs">24V的,</text>
<text x="1799" y="2840">接在</text>
<text x="1799" y="2873" textLength="38" lengthAdjust="spacingAndGlyphs">+24V</text>
</g>

<!-- page number -->
<text class="sf" x="1198" y="3326" font-size="50">05</text>
</svg>
</body></html>
